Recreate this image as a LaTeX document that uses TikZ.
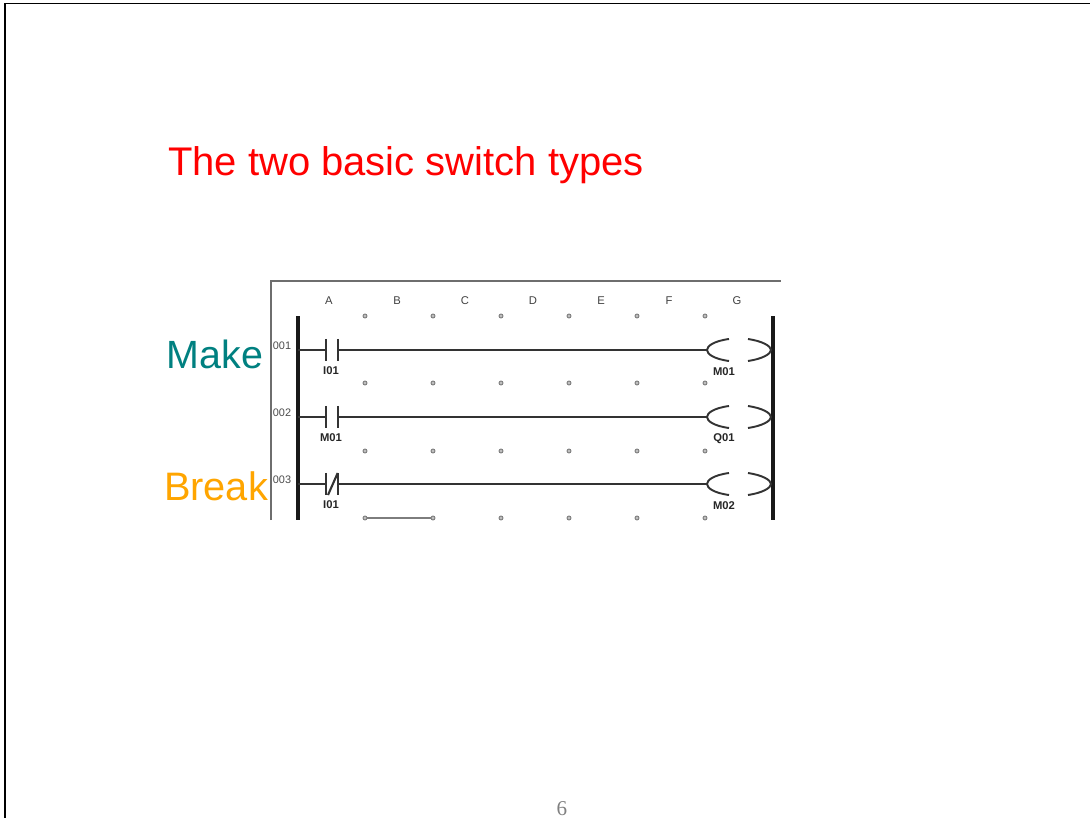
\documentclass[tikz,border=0pt]{standalone}
\usepackage{fontspec}
\setmainfont{Liberation Sans}
\newfontfamily\numfont{Liberation Serif}
\definecolor{maketeal}{RGB}{0,128,128}
\definecolor{breakorange}{RGB}{255,165,0}
\definecolor{framegray}{RGB}{110,110,110}
\definecolor{dotgray}{RGB}{125,125,125}
\tikzset{
  rail/.style={line width=0.9pt,black!90},
  rung/.style={line width=0.55pt,black!80},
  bar/.style={line width=0.6pt,black!80},
  dotmark/.style={circle,draw=dotgray,line width=0.25pt,fill=dotgray!50,inner sep=0pt,minimum size=0.04cm},
  colhead/.style={font=\fontsize{3.2}{3.8}\selectfont,text=black!75},
  rownum/.style={font=\fontsize{3.1}{3.7}\selectfont,text=black!70},
  tag/.style={font=\fontsize{3.2}{3.8}\selectfont\bfseries,text=black!85}
}
\begin{document}
\begin{tikzpicture}[x=0.01cm,y=-0.01cm]
\useasboundingbox (0,0) rectangle (1090,818);
\coordinate (cornertl) at (5,3.5);
\coordinate (cornerbl) at (5,818);
\coordinate (cornertr) at (1090,3.5);
\draw [line width=0.3pt](cornerbl) -- (cornertl) -- (cornertr);
\node (title) at (406,165) [text=red, font=\fontsize{11.37}{13}\selectfont] {The two basic switch types};
\node (make) at (215,354) [text=maketeal, font=\fontsize{11.2}{13}\selectfont] {Make};
\node (break) at (216,486) [text=breakorange, font=\fontsize{11.3}{13}\selectfont] {Break};
\node (pagenum) at (562,809) [text=gray, font=\fontsize{6}{7}\numfont] {6};
\coordinate (framebl) at (271,520);
\coordinate (frametl) at (271,281);
\coordinate (frametr) at (781,281);
\draw [line width=0.55pt, framegray](framebl) -- (frametl) -- (frametr);
\coordinate (railltop) at (298,316);
\coordinate (raillbot) at (298,520);
\coordinate (railrtop) at (773,316);
\coordinate (railrbot) at (773,520);
\draw [rail](railltop) -- (raillbot);
\draw [rail](railrtop) -- (railrbot);
\foreach \name/\xx in {A/329,B/397,C/465,D/533,E/601,F/669,G/737}
  \node (col\name) at (\xx,301) [colhead] {\name};
\foreach \yy [count=\r] in {316,383,451,518}
  \foreach \xx [count=\c] in {365,433,501,569,637,705}
    \node (dot\r\c) at (\xx,\yy) [dotmark] {};
\draw [line width=0.35pt, dotgray](dot41) -- (dot42);
\foreach \r/\yy/\num/\left/\right in {1/350/001/I01/M01,2/417/002/M01/Q01,3/484/003/I01/M02}
{
  \node (num\r) at (282,\yy-4) [rownum] {\num};
  \node (tagl\r) at (331,\yy+21) [tag] {\left};
  \node (tagr\r) at (724,\yy+22) [tag] {\right};
  \coordinate (start\r) at (298,\yy);
  \coordinate (conl\r) at (325.7,\yy);
  \coordinate (conr\r) at (337.7,\yy);
  \coordinate (coil\r) at (707,\yy);
  \coordinate (end\r) at (771,\yy);
  \draw [rung](start\r) -- (conl\r);
  \draw [rung](conr\r) -- (coil\r);
  \draw [bar]([yshift=0.11cm]conl\r) -- ([yshift=-0.11cm]conl\r);
  \draw [bar]([yshift=0.11cm]conr\r) -- ([yshift=-0.11cm]conr\r);
  \draw [rung](729,\yy-11) .. controls (714,\yy-9) and (707,\yy-4) .. (coil\r) .. controls (707,\yy+4) and (714,\yy+9) .. (729,\yy+11);
  \draw [rung](748,\yy-11) .. controls (762,\yy-9) and (771,\yy-4) .. (end\r) .. controls (771,\yy+4) and (762,\yy+9) .. (748,\yy+11);
}
\draw [bar](328,495) -- (337.7,473);
\end{tikzpicture}
\end{document}
